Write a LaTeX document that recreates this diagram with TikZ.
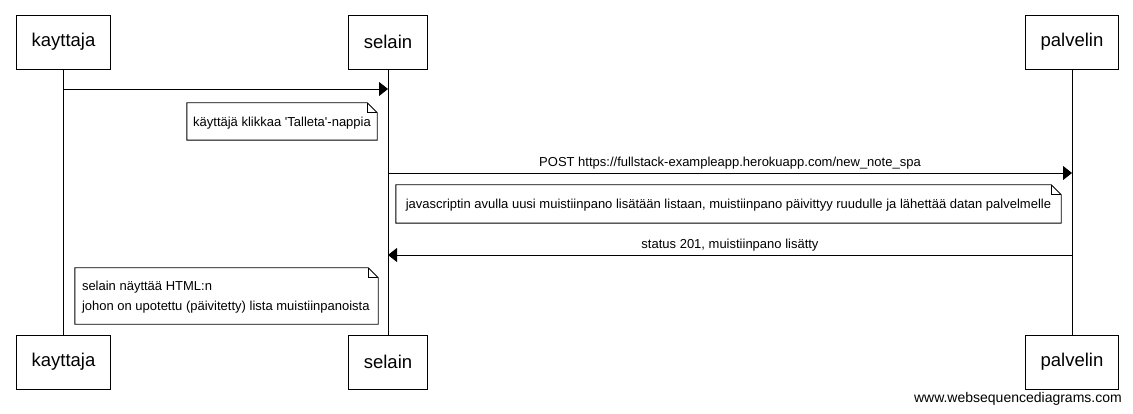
\documentclass[tikz,border=0pt]{standalone}
\usepackage{fontspec}
\setmainfont{Liberation Sans}
\usepackage{tikz}
\usetikzlibrary{arrows.meta,positioning}
\tikzset{
  actor/.style={
    draw=black,
    line width=0.9pt,
    fill=white,
    inner xsep=15pt,
    minimum height=54pt,
    font=\fontsize{18.5}{22}\selectfont
  },
  lifeline/.style={line width=0.9pt, draw=black},
  msgedge/.style={line width=0.9pt, draw=black, -{Triangle[length=9pt,width=14pt]}},
  msglabel/.style={font=\fontsize{13}{16}\selectfont, anchor=south, inner sep=0pt},
  noteframe/.style={draw=none, inner sep=0pt},
  notetext/.style={
    inner sep=0pt,
    align=left,
    font=\fontsize{13}{20}\selectfont
  },
  notefold/.style={line width=0.9pt, draw=black, fill=white},
  credit/.style={font=\fontsize{14}{16}\selectfont, anchor=east, inner sep=0pt}
}
\newcommand{\notefrom}[1]{%
  \draw[notefold] (#1.south west) -- (#1.south east) -- ([yshift=-10pt]#1.north east)
    -- ([xshift=-10pt]#1.north east) -- (#1.north west) -- cycle;
  \draw[line width=0.9pt] ([xshift=-10pt]#1.north east) |- ([yshift=-10pt]#1.north east);
}

\begin{document}
\begin{tikzpicture}[x=1pt,y=-1pt]
\useasboundingbox (0,0) rectangle (1133,414);
\fill[white] (0,0) rectangle (1133,414);

% participants
\node[actor] (kayttaja) at (63.5,42) {kayttaja};
\node[actor] (selain) at (388,42) {selain};
\node[actor] (palvelin) at (1072,42) {palvelin};

\node[actor] (kayttajaB) at (63.5,362) {kayttaja};
\node[actor] (selainB) at (388,362) {selain};
\node[actor] (palvelinB) at (1072,362) {palvelin};

\draw[lifeline] (kayttaja.south) -- (kayttajaB.north);
\draw[lifeline] (selain.south) -- (selainB.north);
\draw[lifeline] (palvelin.south) -- (palvelinB.north);

% message ends on the lifelines
\coordinate (klik) at (64,89);
\coordinate (klikS) at (388,89);
\coordinate (postS) at (388,173);
\coordinate (postP) at (1072,173);
\coordinate (vastP) at (1072,255);
\coordinate (vastS) at (388,255);

\draw[msgedge] (klik) -- (klikS);

\node[noteframe, minimum width=190pt, minimum height=37pt] (tallenna) at (282,121.5) {};
\notefrom{tallenna}
\node[notetext] (tallennaT) at ([yshift=-1.5pt]tallenna.center)
  {käyttäjä klikkaa \textquotesingle Talleta\textquotesingle-nappia};

\draw[msgedge] (postS) -- node[msglabel, above=3pt] (postlabel)
  {POST https://fullstack-exampleapp.herokuapp.com/new\_note\_spa} (postP);

\node[noteframe, minimum width=665pt, minimum height=38pt] (jsnote) at (728.5,204) {};
\notefrom{jsnote}
\node[notetext] (jsnoteT) at ([yshift=-1.5pt]jsnote.center)
  {javascriptin avulla uusi muistiinpano lisätään listaan, muistiinpano päivittyy ruudulle ja lähettää datan palvelmelle};

\draw[msgedge] (vastP) -- node[msglabel, above=3pt] (vastlabel)
  {status 201, muistiinpano lisätty} (vastS);

\node[noteframe, minimum width=303pt, minimum height=56pt] (htmlnote) at (226.5,296) {};
\notefrom{htmlnote}
\node[notetext, anchor=west] (htmlnoteT) at ([xshift=7pt,yshift=-1pt]htmlnote.west)
  {selain näyttää HTML:n\\johon on upotettu (päivitetty) lista muistiinpanoista};

\node[credit] (wsd) at (1122,399) {www.websequencediagrams.com};

\end{tikzpicture}
\end{document}
